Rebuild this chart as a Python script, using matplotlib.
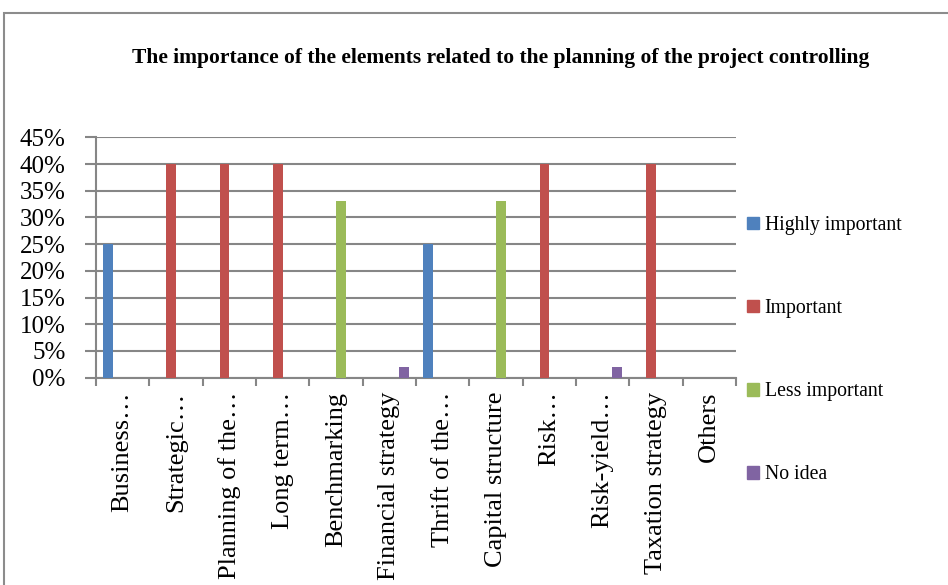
import matplotlib.pyplot as plt
import matplotlib.patches as mpatches
import numpy as np

categories = ["Business…", "Strategic…", "Planning of the…", "Long term…", "Benchmarking",
              "Financial strategy", "Thrift of the…", "Capital structure", "Risk…",
              "Risk-yield…", "Taxation strategy", "Others"]
highly_important = [25, 0, 0, 0, 0, 0, 25, 0, 0, 0, 0, 0]
important = [0, 40, 40, 40, 0, 0, 0, 0, 40, 0, 40, 0]
less_important = [0, 0, 0, 0, 33, 0, 0, 33, 0, 0, 0, 0]
no_idea = [0, 0, 0, 0, 0, 2, 0, 0, 0, 2, 0, 0]

series_names = ["Highly important", "Important", "Less important", "No idea"]
colors = ["#4F81BD", "#C0504D", "#9BBB59", "#8064A2"]
yticks = [0, 5, 10, 15, 20, 25, 30, 35, 40, 45]

plt.rcParams['font.family'] = ['Liberation Serif', 'DejaVu Serif']
grid_color = "#868686"

fig = plt.figure(figsize=(9.48, 5.85), dpi=100)
ax = fig.add_axes([96 / 948, 1 - 377.7 / 585, 640 / 948, 240.4 / 585])

# outer chart frame (cut off at right and bottom like the original)
frame = mpatches.Rectangle((4 / 948, -0.1), 1.2, 1.1 - 13 / 585, transform=fig.transFigure,
                           fill=False, edgecolor="#8c8c8c", linewidth=1.5)
fig.patches.append(frame)

x = np.arange(len(categories))
w = 1 / 5.5
all_series = [highly_important, important, less_important, no_idea]
for i, (vals, name, c) in enumerate(zip(all_series, series_names, colors)):
    ax.bar(x - 2 * w + (i + 0.5) * w, vals, width=w, color=c, label=name, linewidth=0, zorder=3)

ax.set_xlim(-0.5, len(categories) - 0.5)
ax.set_ylim(0, 45)
ax.set_yticks(yticks)
ax.set_yticklabels([f"{v}%" for v in yticks], fontsize=18)
ax.yaxis.grid(True, color=grid_color, linewidth=1.5, zorder=0)
ax.tick_params(axis='y', length=8, width=1.5, color=grid_color, pad=14)

ax.set_xticks(x)
ax.set_xticklabels(categories, rotation=90, fontsize=19)
ax.set_xticks(np.arange(len(categories) + 1) - 0.5, minor=True)
ax.tick_params(axis='x', which='major', length=0, pad=10)
ax.tick_params(axis='x', which='minor', length=6, width=1.5, color=grid_color)

for s in ["top", "right"]:
    ax.spines[s].set_visible(False)
ax.spines["left"].set_color(grid_color)
ax.spines["left"].set_linewidth(1.5)
ax.spines["bottom"].set_color(grid_color)
ax.spines["bottom"].set_linewidth(1.5)

fig.text(501 / 948, 1 - 58 / 585, "The importance of the elements related to the planning of the project controlling",
         ha="center", va="center", fontsize=15.5, fontweight="bold")

handles = [mpatches.Patch(color=c, label=n) for c, n in zip(colors, series_names)]
fig.legend(handles=handles, loc="upper left", bbox_to_anchor=(747 / 948, 1 - 216 / 585),
           frameon=False, fontsize=14.2, handlelength=0.6, handleheight=0.6,
           handletextpad=0.3, labelspacing=3.25, borderaxespad=0, borderpad=0)

fig.savefig("out.png", dpi=100)
